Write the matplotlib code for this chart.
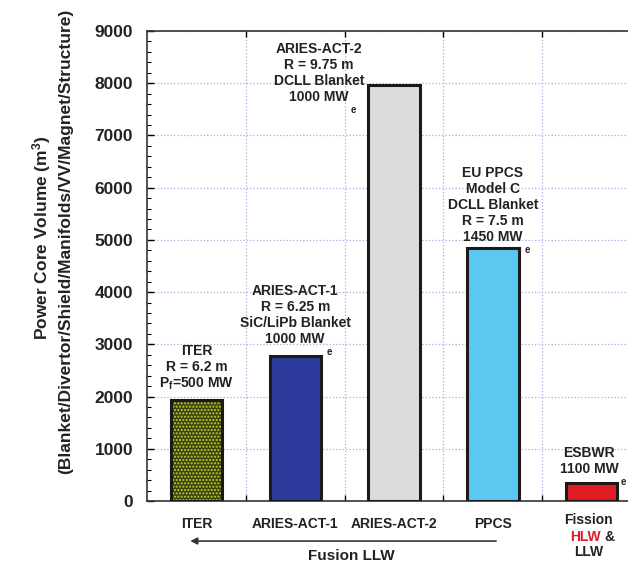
import matplotlib.pyplot as plt
from matplotlib.ticker import MultipleLocator
import matplotlib.transforms as mtransforms

plt.rcParams['font.family'] = ['Liberation Sans', 'DejaVu Sans']
plt.rcParams['font.weight'] = 'bold'
plt.rcParams['mathtext.fontset'] = 'custom'
plt.rcParams['mathtext.rm'] = 'Liberation Sans:bold'
plt.rcParams['mathtext.bf'] = 'Liberation Sans:bold'
plt.rcParams['mathtext.it'] = 'Liberation Sans:bold'

# data
categories = ['ITER', 'ARIES-ACT-1', 'ARIES-ACT-2', 'PPCS', 'ESBWR']
volumes = [1940, 2780, 7970, 4850, 350]
colors = ['#3b4212', '#2c3a9c', '#dcdcdc', '#5cc8f2', '#e01b24']
tick_labels = ['ITER', 'ARIES-ACT-1', 'ARIES-ACT-2', 'PPCS']
notes = [
    'ITER\nR = 6.2 m\nP$_f$=500 MW',
    'ARIES-ACT-1\nR = 6.25 m\nSiC/LiPb Blanket\n1000 MW',
    'ARIES-ACT-2\nR = 9.75 m\nDCLL Blanket\n1000 MW',
    'EU PPCS\nModel C\nDCLL Blanket\nR = 7.5 m\n1450 MW',
    'ESBWR\n1100 MW',
]
# where each note sits relative to its bar top (points), and whether it ends in MW_e
note_offsets = [(0, 8.6), (0, 9.4), (-54, -11.5), (0, 5), (-2, 7.2)]
has_e = [False, True, True, True, True]

txt = '#222222'
fig = plt.figure(figsize=(6.28, 5.63), dpi=100)
ax = fig.add_axes([0.234, 0.110, 0.787, 0.835])

x = list(range(1, len(categories) + 1))
for xi, v, c in zip(x, volumes, colors):
    if xi == 1:
        ax.bar(xi, v, width=0.52, color=c, edgecolor='#c9d424', hatch='.....',
               linewidth=0, zorder=3)
        ax.bar(xi, v, width=0.52, fill=False, edgecolor='#1a1a1a',
               linewidth=2.2, zorder=4)
    else:
        ax.bar(xi, v, width=0.52, color=c, edgecolor='#1a1a1a',
               linewidth=2.2, zorder=3)

ax.set_xlim(0.5, 5.5)
ax.set_ylim(0, 9000)

note_fs = 10
for xi, v, note, off in zip(x, volumes, notes, note_offsets):
    ax.annotate(note, xy=(xi, v), xytext=off, textcoords='offset points',
                ha='center', va='baseline', fontsize=note_fs, fontweight='bold',
                color=txt, linespacing=1.18, zorder=5)

# the "e" of MW_e hangs well below and right of the last line
fig.canvas.draw()
renderer = fig.canvas.get_renderer()
for xi, v, note, off, e in zip(x, volumes, notes, note_offsets, has_e):
    if not e:
        continue
    last = note.split('\n')[-1]
    tmp = fig.text(0, 0, last, fontsize=note_fs, fontweight='bold')
    w = tmp.get_window_extent(renderer).width
    tmp.remove()
    px, py = ax.transData.transform((xi, v))
    px += off[0] * 100 / 72
    py += off[1] * 100 / 72
    ax.annotate('e', xy=(px + w / 2 + 2, py - 4), xycoords='figure pixels',
                ha='left', va='top', fontsize=7, fontweight='bold', color=txt)

ax.yaxis.set_major_locator(MultipleLocator(1000))
ax.yaxis.set_minor_locator(MultipleLocator(200))
ax.set_xticks([1.5, 2.5, 3.5, 4.5])
ax.set_xticklabels([])
ax.tick_params(axis='y', which='major', direction='in', length=5, width=1,
               labelsize=12.5, labelcolor=txt, pad=10)
ax.tick_params(axis='y', which='minor', direction='in', length=3, width=0.8)
ax.tick_params(axis='x', direction='in', length=4, width=1, top=True)
for lab in ax.get_yticklabels():
    lab.set_fontweight('bold')

ax.grid(True, which='major', linestyle=':', color='#a8acdc', linewidth=0.9, zorder=0)
ax.spines['right'].set_visible(False)
for s in ['left', 'bottom', 'top']:
    ax.spines[s].set_color('#333333')
    ax.spines[s].set_linewidth(1.2)

trans = mtransforms.blended_transform_factory(ax.transData, ax.transAxes)
for xi, lab in zip(x, tick_labels):
    ax.text(xi, -0.049, lab, transform=trans, ha='center', va='center',
            fontsize=10, fontweight='bold', color=txt)

ax.text(4.97, -0.040, 'Fission', transform=trans, ha='center', va='center',
        fontsize=10, fontweight='bold', color=txt)
ax.text(5.09, -0.076, 'HLW', transform=trans, ha='right', va='center',
        fontsize=10, fontweight='bold', color='#e01b24')
ax.text(5.13, -0.076, '&', transform=trans, ha='left', va='center',
        fontsize=10, fontweight='bold', color=txt)
ax.text(4.97, -0.108, 'LLW', transform=trans, ha='center', va='center',
        fontsize=10, fontweight='bold', color=txt)

ax.annotate('', xy=(0.91, -0.085), xytext=(4.06, -0.085), xycoords=trans,
            textcoords=trans, annotation_clip=False,
            arrowprops=dict(arrowstyle='-|>', color='#333333', lw=1.2,
                            mutation_scale=10))
ax.text(2.57, -0.116, 'Fusion LLW', transform=trans, ha='center', va='center',
        fontsize=11, fontweight='bold', color=txt)

fig.text(0.066, 0.578, 'Power Core Volume (m$^3$)', rotation=90,
         ha='center', va='center', fontsize=12.5, fontweight='bold', color=txt)
fig.text(0.105, 0.572, '(Blanket/Divertor/Shield/Manifolds/VV/Magnet/Structure)',
         rotation=90, ha='center', va='center', fontsize=12.5, fontweight='bold',
         color=txt)

fig.savefig('out.png', dpi=100)
